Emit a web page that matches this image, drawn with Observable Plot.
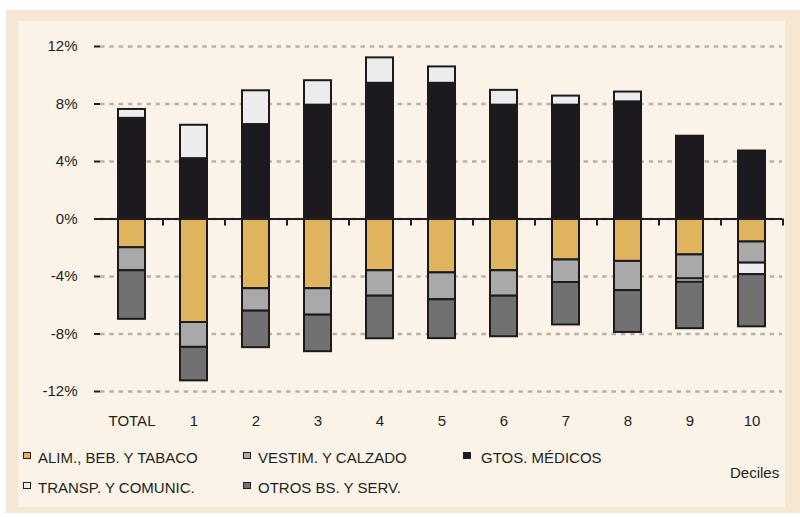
<!DOCTYPE html>
<html><head><meta charset="utf-8">
<script src="https://cdn.jsdelivr.net/npm/d3@7"></script>
<script src="https://cdn.jsdelivr.net/npm/@observablehq/plot@0.6"></script>
<style>
body{margin:0;background:#fff;font-family:"Liberation Sans",Arial,sans-serif;color:#231f20}
#wrap{position:relative;width:800px;height:517px;overflow:hidden}
#outer{position:absolute;left:6px;top:10px;width:794px;height:503px;background:#f6e7d2}
#inner{position:absolute;left:18px;top:21px;width:767px;height:486px;background:#fbf3e8}
#chart{position:absolute;left:0;top:0}
.leg{position:absolute;font-size:15px;line-height:16px;white-space:nowrap}
.sw{position:absolute;width:6px;height:5px;border:1.5px solid #231f20}
</style></head><body>
<div id="wrap"><div id="outer"></div><div id="inner"></div><div id="chart"></div><div id="legend"></div></div>
<script>
const categories = ["TOTAL","1","2","3","4","5","6","7","8","9","10"];
const seriesNames = ["ALIM., BEB. Y TABACO","VESTIM. Y CALZADO","GTOS. MÉDICOS","TRANSP. Y COMUNIC.","OTROS BS. Y SERV."];
const alim   = [-2.0, -7.2, -4.85, -4.85, -3.6, -3.75, -3.6, -2.85, -2.95, -2.5, -1.6];
const vestim = [-1.6, -1.73, -1.56, -1.84, -1.77, -1.87, -1.77, -1.57, -2.03, -1.67, -1.47];
const gtos   = [7.0, 4.2, 6.57, 7.92, 9.44, 9.44, 7.92, 7.92, 8.15, 5.76, 4.73];
const transp = [0.62, 2.32, 2.35, 1.7, 1.77, 1.14, 1.03, 0.63, 0.68, -0.23, -0.8];
const otros  = [-3.38, -2.33, -2.54, -2.54, -2.96, -2.7, -2.82, -2.95, -2.91, -3.23, -3.63];
const yTicks = [-12, -8, -4, 0, 4, 8, 12];
const colors = ["#e0b35e","#a9a9a9","#1c1a1f","#ececec","#717171"];

const seriesValues = [alim, vestim, gtos, transp, otros];
const data = [];
seriesNames.forEach((s, j) => categories.forEach((c, i) => data.push({cat: c, series: s, value: seriesValues[j][i]})));

const ink = "#231f20";
const plot = Plot.plot({
  width: 800, height: 440,
  marginTop: 46, marginBottom: 49, marginLeft: 100, marginRight: 18,
  style: {background: "transparent", fontFamily: '"Liberation Sans", Arial, sans-serif', fontSize: "15px", color: ink, overflow: "visible"},
  x: {domain: categories, paddingInner: 0.565, paddingOuter: 0.2825},
  y: {domain: [-12, 12]},
  color: {domain: seriesNames, range: colors},
  marks: [
    Plot.ruleY(yTicks, {stroke: "#b5b2ad", strokeWidth: 2.5, strokeDasharray: "4.5,4.8"}),
    Plot.barY(data, {x: "cat", y: "value", fill: "series", order: seriesNames, stroke: "#1c1a1f", strokeWidth: 2}),
    Plot.ruleY([0], {stroke: ink, strokeWidth: 2}),
    Plot.ruleX(categories, {x: d => d, y1: 0, y2: 0, dx: 31, insetBottom: -7, stroke: ink, strokeWidth: 2}),
    Plot.axisY({ticks: yTicks, tickFormat: d => d + "%", tickSize: 6, tickPadding: 17, strokeWidth: 2, stroke: ink, line: true, label: null, fontSize: 15}),
    Plot.axisX({tickSize: 0, tickPadding: 24, label: null, fontSize: 15})
  ]
});
document.getElementById("chart").appendChild(plot);

// legend
const legPos = [[23, 450], [243, 450], [463, 450], [23, 480], [243, 480]];
const leg = document.getElementById("legend");
seriesNames.forEach((s, j) => {
  const [lx, ly] = legPos[j];
  const sw = document.createElement("div");
  sw.className = "sw";
  sw.style.left = lx + "px"; sw.style.top = (ly + 2) + "px"; sw.style.background = colors[j];
  leg.appendChild(sw);
  const t = document.createElement("div");
  t.className = "leg";
  t.style.left = (lx + 15 + (j === 2 ? 3 : 0)) + "px"; t.style.top = ly + "px";
  t.textContent = s;
  leg.appendChild(t);
});
const dec = document.createElement("div");
dec.className = "leg";
dec.style.left = "730px"; dec.style.top = "465px";
dec.textContent = "Deciles";
leg.appendChild(dec);
</script>
</body></html>
